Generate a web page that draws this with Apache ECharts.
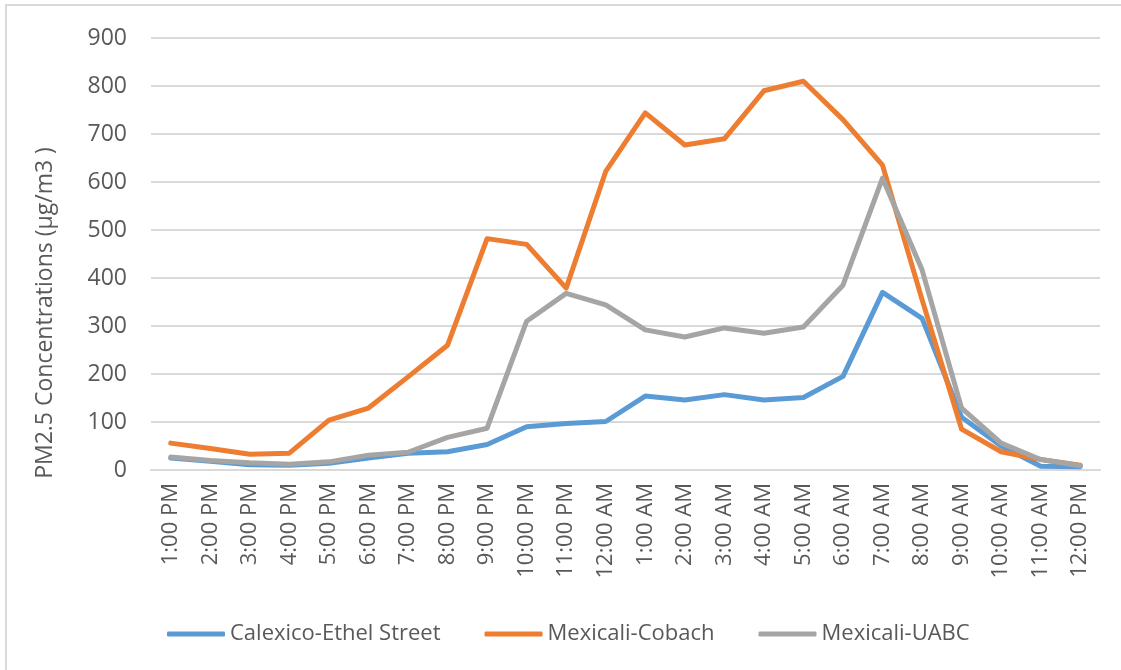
<!DOCTYPE html>
<html>
<head>
<meta charset="utf-8">
<script src="https://cdn.jsdelivr.net/npm/echarts@6/dist/echarts.min.js"></script>
<style>
  html, body { margin: 0; padding: 0; background: #fff; }
  #main { width: 1121px; height: 670px; }
</style>
</head>
<body>
<div id="main"></div>
<script>
// hourly PM2.5 values
const hours = [
  "1:00 PM", "2:00 PM", "3:00 PM", "4:00 PM", "5:00 PM", "6:00 PM",
  "7:00 PM", "8:00 PM", "9:00 PM", "10:00 PM", "11:00 PM", "12:00 AM",
  "1:00 AM", "2:00 AM", "3:00 AM", "4:00 AM", "5:00 AM", "6:00 AM",
  "7:00 AM", "8:00 AM", "9:00 AM", "10:00 AM", "11:00 AM", "12:00 PM"
];
const calexico = [25, 18, 11, 10, 14, 25, 35, 38, 53, 90, 97, 101,
  154, 146, 157, 146, 151, 195, 370, 316, 110, 50, 8, 7];
const cobach = [56, 45, 33, 35, 104, 129, 194, 260, 482, 470, 379, 622,
  744, 677, 690, 790, 810, 730, 635, 355, 85, 38, 22, 10];
const uabc = [27, 20, 15, 12, 17, 31, 37, 68, 87, 310, 368, 344,
  292, 277, 296, 285, 298, 385, 608, 417, 129, 56, 22, 9];
const yTicks = [0, 100, 200, 300, 400, 500, 600, 700, 800, 900];

const font = "Open Sans";
const textColor = "#595959";

const chart = echarts.init(document.getElementById("main"));

function line(name, data, color) {
  return {
    name: name,
    type: "line",
    data: data,
    symbol: "none",
    lineStyle: { width: 5, color: color, cap: "round", join: "round" },
    itemStyle: { color: color }
  };
}

chart.setOption({
  animation: false,
  textStyle: { fontFamily: font },
  grid: { left: 151, right: 21, top: 38, bottom: 200 },
  graphic: [
    {
      type: "rect",
      shape: { x: 6, y: 5, width: 1130, height: 680 },
      style: { fill: "none", stroke: "#D9D9D9", lineWidth: 2 }
    },
    {
      type: "text",
      x: 45, y: 313,
      rotation: Math.PI / 2,
      style: {
        text: "PM2.5 Concentrations (µg/m3 )",
        font: "23px '" + font + "'",
        fill: textColor,
        align: "center",
        verticalAlign: "middle"
      }
    }
  ],
  legend: {
    bottom: 20,
    left: 162,
    itemGap: 44,
    itemWidth: 58,
    itemHeight: 5,
    icon: "roundRect",
    textStyle: { fontFamily: font, fontSize: 22, color: textColor },
    data: ["Calexico-Ethel Street", "Mexicali-Cobach", "Mexicali-UABC"]
  },
  xAxis: {
    type: "category",
    data: hours,
    boundaryGap: true,
    axisLine: { lineStyle: { color: "#D9D9D9", width: 2 } },
    axisTick: { show: false },
    axisLabel: {
      rotate: 90,
      interval: 0,
      margin: 13,
      fontSize: 22,
      color: textColor,
      fontFamily: font
    }
  },
  yAxis: {
    type: "value",
    min: yTicks[0],
    max: yTicks[yTicks.length - 1],
    interval: 100,
    axisLine: { show: false },
    axisTick: { show: false },
    splitLine: { lineStyle: { color: "#D9D9D9", width: 2 } },
    axisLabel: { fontSize: 23, color: textColor, margin: 24, fontFamily: font }
  },
  series: [
    line("Calexico-Ethel Street", calexico, "#5B9BD5"),
    line("Mexicali-Cobach", cobach, "#ED7D31"),
    line("Mexicali-UABC", uabc, "#A5A5A5")
  ]
});
</script>
</body>
</html>
